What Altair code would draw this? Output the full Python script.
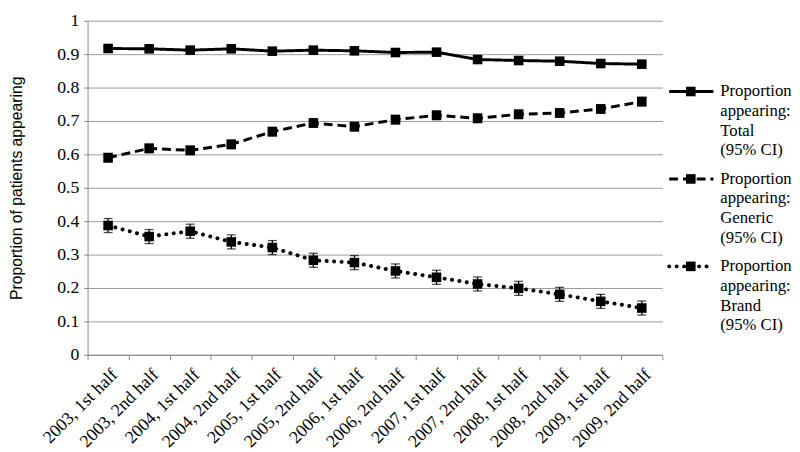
import altair as alt
import pandas as pd

categories = ["2003, 1st half", "2003, 2nd half", "2004, 1st half", "2004, 2nd half",
              "2005, 1st half", "2005, 2nd half", "2006, 1st half", "2006, 2nd half",
              "2007, 1st half", "2007, 2nd half", "2008, 1st half", "2008, 2nd half",
              "2009, 1st half", "2009, 2nd half"]
total = [0.917, 0.916, 0.912, 0.916, 0.909, 0.912, 0.910, 0.905, 0.906, 0.884, 0.881, 0.879, 0.872, 0.870]
total_ci = [0.004] * 14
generic = [0.590, 0.618, 0.612, 0.630, 0.668, 0.694, 0.683, 0.704, 0.717, 0.708, 0.720, 0.724, 0.736, 0.758]
generic_ci = [0.013] * 14
brand = [0.387, 0.354, 0.370, 0.338, 0.321, 0.283, 0.276, 0.251, 0.232, 0.212, 0.199, 0.181, 0.160, 0.140]
brand_ci = [0.021] * 14
y_ticks = [0, 0.1, 0.2, 0.3, 0.4, 0.5, 0.6, 0.7, 0.8, 0.9, 1]

series_names = ["Total", "Generic", "Brand"]
legend_labels = ["Proportion\nappearing:\nTotal\n(95% CI)",
                 "Proportion\nappearing:\nGeneric\n(95% CI)",
                 "Proportion\nappearing:\nBrand\n(95% CI)"]

rows = []
for name, vals, cis in [("Total", total, total_ci), ("Generic", generic, generic_ci), ("Brand", brand, brand_ci)]:
    for c, v, e in zip(categories, vals, cis):
        rows.append({"period": c, "series": name, "value": v, "lo": v - e, "hi": v + e})
df = pd.DataFrame(rows)

W, H = 585, 340
SERIF = "'Liberation Serif', 'Times New Roman', 'DejaVu Serif', serif"
SANS = "'Liberation Sans', Arial, sans-serif"
styles = {"Total": dict(strokeDash=[1, 0], strokeWidth=3, strokeCap="butt"),
          "Generic": dict(strokeDash=[9, 5], strokeWidth=3, strokeCap="butt"),
          "Brand": dict(strokeDash=[0.1, 7.5], strokeWidth=4, strokeCap="round")}

x_axis = alt.Axis(labelAngle=-45, tickBand="extent", tickSize=5, labelPadding=6, grid=False,
                  labelOverlap=False)
y_axis = alt.Axis(values=y_ticks, format=".1~f", tickSize=4, labelPadding=5, labelOverlap=False,
                  grid=True, title="Proportion of patients appearing", titlePadding=33)
x_scale = alt.Scale(domain=categories, paddingInner=0, paddingOuter=0)
y_scale = alt.Scale(domain=[0, 1], nice=False)


def X():
    return alt.X("period:N", sort=categories, scale=x_scale, axis=x_axis, title=None)


def Y(field):
    return alt.Y(field, type="quantitative", scale=y_scale, axis=y_axis,
                 title="Proportion of patients appearing")


base = alt.Chart(df)
line_layers = []
for s in series_names:
    line_layers.append(base.transform_filter(alt.datum.series == s)
                       .mark_line(color="black", **styles[s]).encode(x=X(), y=Y("value")))

err = base.mark_rule(color="black", strokeWidth=1.3).encode(x=X(), y=Y("lo"), y2="hi:Q")
cap_lo = base.mark_tick(color="black", thickness=1.3, size=9).encode(x=X(), y=Y("lo"))
cap_hi = base.mark_tick(color="black", thickness=1.3, size=9).encode(x=X(), y=Y("hi"))
pts = base.mark_square(color="black", opacity=1, size=95).encode(x=X(), y=Y("value"))

main = alt.layer(*line_layers, err, cap_lo, cap_hi, pts).properties(width=W, height=H)

leg_df = pd.DataFrame({"series": series_names, "label": legend_labels})
leg_y = alt.Y("series:N", sort=series_names, axis=None,
              scale=alt.Scale(type="point", domain=series_names, range=[72, 250], padding=0))
leg_base = alt.Chart(leg_df)
leg_lines = []
for s in series_names:
    leg_lines.append(leg_base.transform_filter(alt.datum.series == s)
                     .mark_rule(color="black", **styles[s])
                     .encode(x=alt.value(2), x2=alt.value(47), y=leg_y))
leg_sq = leg_base.mark_square(color="black", opacity=1, size=95).encode(x=alt.value(24), y=leg_y)
leg_txt = leg_base.mark_text(align="left", baseline="middle", font=SERIF, fontSize=17,
                             lineBreak="\n", lineHeight=20, color="#000").encode(
    x=alt.value(54), y=leg_y, text="label:N")
legend = alt.layer(*leg_lines, leg_sq, leg_txt).properties(width=116, height=H)

chart = (alt.hconcat(main, legend, spacing=4)
         .properties(padding=0)
         .configure_view(stroke=None)
         .configure_axis(labelFont=SERIF, labelColor="#000", domainColor="#888", tickColor="#888",
                         gridColor="#999", gridWidth=1, titleFont=SANS, titleFontSize=16,
                         titleFontWeight="normal", titleColor="#000")
         .configure_axisX(labelFontSize=18)
         .configure_axisY(labelFontSize=18))
chart.save("out.html", embed_options={"renderer": "svg", "actions": False})
